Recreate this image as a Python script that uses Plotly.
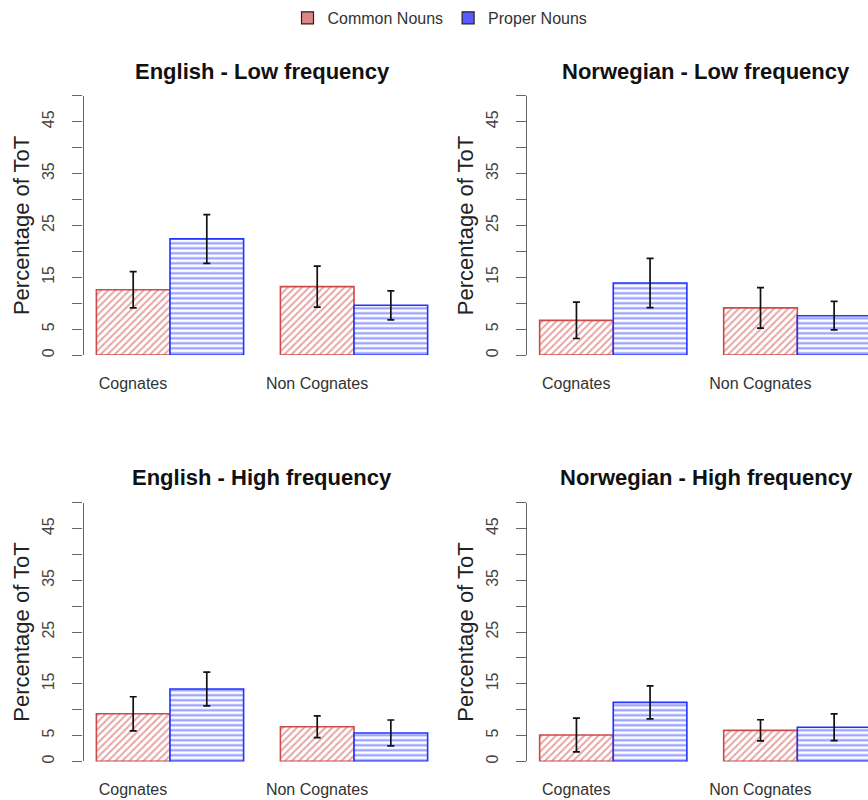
import plotly.graph_objects as go

categories = ["Cognates", "Non Cognates"]
series_names = ["Common Nouns", "Proper Nouns"]
panel_titles = ["English - Low frequency", "Norwegian - Low frequency",
                "English - High frequency", "Norwegian - High frequency"]

eng_low_common = [12.6, 13.2]
eng_low_common_err = [3.5, 3.95]
eng_low_proper = [22.4, 9.6]
eng_low_proper_err = [4.7, 2.8]

nor_low_common = [6.7, 9.1]
nor_low_common_err = [3.5, 3.9]
nor_low_proper = [13.9, 7.6]
nor_low_proper_err = [4.75, 2.75]

eng_high_common = [9.2, 6.7]
eng_high_common_err = [3.3, 2.1]
eng_high_proper = [14.0, 5.5]
eng_high_proper_err = [3.25, 2.5]

nor_high_common = [5.1, 6.0]
nor_high_common_err = [3.25, 2.05]
nor_high_proper = [11.4, 6.6]
nor_high_proper_err = [3.2, 2.6]

y_tick_values = [0, 5, 10, 15, 20, 25, 30, 35, 40, 45, 50]
y_tick_labels = ["0", "5", "", "15", "", "25", "", "35", "", "45", ""]

panels = [
    (eng_low_common, eng_low_common_err, eng_low_proper, eng_low_proper_err),
    (nor_low_common, nor_low_common_err, nor_low_proper, nor_low_proper_err),
    (eng_high_common, eng_high_common_err, eng_high_proper, eng_high_proper_err),
    (nor_high_common, nor_high_common_err, nor_high_proper, nor_high_proper_err),
]

FONT = "Liberation Sans, Arial, Helvetica, sans-serif"
RED_LINE = "#cc4a4a"
BLUE_LINE = "#2233ff"
RED_FILL = "#e08585"
BLUE_FILL = "#5a5aff"

fig = go.Figure()

for i, (c, ce, p, pe) in enumerate(panels):
    ax = "" if i == 0 else str(i + 1)
    for vals, errs, name, col, shape, sol in [
        (c, ce, series_names[0], RED_LINE, "/", 0.4),
        (p, pe, series_names[1], BLUE_LINE, "-", 0.42),
    ]:
        fig.add_trace(go.Bar(
            x=categories, y=vals, name=name, showlegend=False,
            offsetgroup=name,
            xaxis="x" + ax, yaxis="y" + ax,
            marker=dict(
                color="white",
                line=dict(color=col, width=1.6),
                pattern=dict(shape=shape, fgcolor=col, bgcolor="white",
                             size=5, solidity=sol, fillmode="overlay"),
            ),
            error_y=dict(type="data", array=errs, visible=True,
                         color="#111111", thickness=1.7, width=3.5),
        ))

# legend entries (solid swatches)
for name, fill in [(series_names[0], RED_FILL), (series_names[1], BLUE_FILL)]:
    fig.add_trace(go.Bar(
        x=[None], y=[None], name=name, offsetgroup=name,
        xaxis="x", yaxis="y", showlegend=True,
        marker=dict(color=fill, line=dict(color="#222222", width=1.2)),
    ))

H = 800.0
W = 868.0
top_dom = [1 - 356 / H, 1 - 96 / H]
bot_dom = [1 - 763.3 / H, 1 - 504 / H]
left_dom = [83.5 / W, 440.7 / W]
right_dom = [527.3 / W, 1.0]

xcommon = dict(type="category", showline=False, showgrid=False, zeroline=False,
               ticks="", tickfont=dict(family=FONT, size=16, color="#333333"),
               ticklabelshift=-37, ticklabelstandoff=17, fixedrange=True)
ycommon = dict(range=[0, 50], showline=True, linecolor="#666666", linewidth=1.3,
               showgrid=False, zeroline=False, ticks="outside", ticklen=10,
               tickwidth=1.3, tickcolor="#666666",
               tickvals=y_tick_values, ticktext=y_tick_labels, tickangle=-90,
               ticklabelstandoff=12,
               tickfont=dict(family=FONT, size=16, color="#444444"),
               title=dict(text="Percentage of ToT",
                          font=dict(family=FONT, size=22, color="#222222"),
                          standoff=4))

layout_axes = {}
specs = [("", left_dom, top_dom, [-0.47, 1.471]),
         ("2", right_dom, top_dom, [-0.467, 1.384]),
         ("3", left_dom, bot_dom, [-0.47, 1.471]),
         ("4", right_dom, bot_dom, [-0.467, 1.384])]
for ax, xd, yd, xr in specs:
    xa = dict(xcommon)
    xa.update(domain=xd, range=xr, anchor="y" + ax)
    ya = dict(ycommon)
    ya.update(domain=yd, anchor="x" + ax)
    layout_axes["xaxis" + ax] = xa
    layout_axes["yaxis" + ax] = ya

fig.update_layout(**layout_axes)

title_pos = [(262 / W, 1 - 72 / H), (705.5 / W, 1 - 72 / H),
             (262 / W, 1 - 479 / H), (706 / W, 1 - 479 / H)]
for t, (tx, ty) in zip(panel_titles, title_pos):
    fig.add_annotation(text="<b>" + t + "</b>", xref="paper", yref="paper",
                       x=tx, y=ty, xanchor="center", yanchor="middle",
                       showarrow=False,
                       font=dict(family=FONT, size=22, color="#111111"))

fig.update_layout(
    width=868, height=800,
    margin=dict(l=0, r=0, t=0, b=0),
    paper_bgcolor="white", plot_bgcolor="white",
    barmode="group", bargap=0.2, bargroupgap=0,
    showlegend=True,
    legend=dict(orientation="h", x=440 / W, xanchor="center",
                y=1 - 18 / H, yanchor="middle",
                font=dict(family=FONT, size=16, color="#333333"),
                itemwidth=30, bgcolor="rgba(0,0,0,0)"),
    font=dict(family=FONT),
)

fig.write_html("out.html")
